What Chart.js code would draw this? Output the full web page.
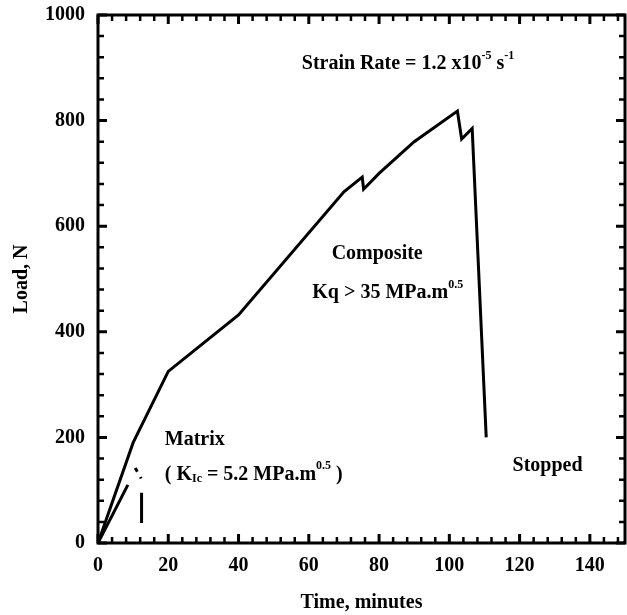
<!DOCTYPE html>
<html><head><meta charset="utf-8">
<script src="https://cdn.jsdelivr.net/npm/chart.js@4"></script>
<style>html,body{margin:0;padding:0;background:#fff}</style>
</head><body>
<canvas id="c" width="627" height="615"></canvas>
<script>
// ---- data ----
const compositeTime = [0, 10, 20, 40, 70, 75.2, 75.6, 80, 90, 102.3, 103.5, 106.5, 110.5];
const compositeLoad = [0, 190, 325, 432, 665, 693, 670, 700, 760, 818, 765, 785, 200];
const matrixTime = [0, 8.5, 9, 10.6, 11.2, 11.7, 12.1, 12.25, 12.3, 12.4, 12.4];
const matrixLoad = [0, 110, null, 142, 135, null, 125, 122, null, 95, 38];
const xTickLabels = [0, 20, 40, 60, 80, 100, 120, 140];
const yTickLabels = [0, 200, 400, 600, 800, 1000];
const xMinorStep = 4;
const yMinorStep = 40;

const FONT = '"Liberation Serif", "Times New Roman", serif';

function toPts(xs, ys){ return xs.map((v,i)=>({x:v, y:ys[i]})); }

// annotation texts (anchored in data coordinates)
const notes = [
  {t:58, v:907, parts:[['Strain Rate = 1.2 x10',''],['-5','sup'],[' s',''],['-1','sup']]},
  {t:66.5, v:547, parts:[['Composite','']]},
  {t:61, v:473, parts:[['Kq > 35 MPa.m',''],['0.5','sup']]},
  {t:19, v:195, parts:[['Matrix','']]},
  {t:19, v:130, parts:[['( K',''],['Ic','sub'],[' = 5.2 MPa.m',''],['0.5','sup'],[' )','']]},
  {t:118, v:147, parts:[['Stopped','']]}
];

const framePlugin = {
  id: 'frame',
  afterDraw(chart){
    const {ctx, chartArea:a, scales:{x, y}} = chart;
    ctx.save();
    ctx.strokeStyle = '#000';
    ctx.lineCap = 'butt';
    ctx.lineWidth = 3;
    ctx.strokeRect(a.left, a.top, a.right - a.left, a.bottom - a.top);
    for (let v = 0; v <= x.max; v += xMinorStep){
      const px = x.getPixelForValue(v);
      const major = xTickLabels.includes(v);
      const L = major ? 9 : 6;
      ctx.lineWidth = major ? 3 : 2.5;
      ctx.beginPath();
      ctx.moveTo(px, a.bottom); ctx.lineTo(px, a.bottom - L);
      ctx.moveTo(px, a.top); ctx.lineTo(px, a.top + L);
      ctx.stroke();
    }
    for (let v = 0; v <= y.max; v += yMinorStep){
      const py = y.getPixelForValue(v);
      const major = yTickLabels.includes(v);
      const L = major ? 9 : 6;
      ctx.lineWidth = major ? 3 : 2.5;
      ctx.beginPath();
      ctx.moveTo(a.left, py); ctx.lineTo(a.left + L, py);
      ctx.moveTo(a.right, py); ctx.lineTo(a.right - L, py);
      ctx.stroke();
    }
    ctx.fillStyle = '#000';
    ctx.textBaseline = 'middle';
    ctx.textAlign = 'left';
    for (const n of notes){
      let px = x.getPixelForValue(n.t);
      const py = y.getPixelForValue(n.v);
      for (const [txt, kind] of n.parts){
        if (kind === 'sup'){
          ctx.font = 'bold 12px ' + FONT;
          ctx.fillText(txt, px, py - 8);
        } else if (kind === 'sub'){
          ctx.font = 'bold 12px ' + FONT;
          ctx.fillText(txt, px, py + 5);
        } else {
          ctx.font = 'bold 20px ' + FONT;
          ctx.fillText(txt, px, py);
        }
        px += ctx.measureText(txt).width;
      }
    }
    ctx.restore();
  }
};

new Chart(document.getElementById('c'), {
  type: 'scatter',
  data: {
    datasets: [
      {label:'Composite', data: toPts(compositeTime, compositeLoad), showLine:true,
       borderColor:'#000', borderWidth:3, pointRadius:0, spanGaps:false, tension:0},
      {label:'Matrix', data: toPts(matrixTime, matrixLoad), showLine:true,
       borderColor:'#000', borderWidth:3, pointRadius:0, spanGaps:false, tension:0}
    ]
  },
  options: {
    responsive: false,
    animation: false,
    devicePixelRatio: 1,
    layout: {padding: {top: 15, right: 2, left: 0, bottom: 0}},
    plugins: {legend: {display:false}, tooltip: {enabled:false}},
    scales: {
      x: {
        type: 'linear', min: 0, max: 150,
        grid: {display:false, drawTicks:false},
        border: {display:false},
        afterBuildTicks(s){ s.ticks = xTickLabels.map(v=>({value:v})); },
        afterFit(s){ s.height = 72; s.paddingLeft = 0; s.paddingRight = 0; },
        ticks: {color:'#000', padding: 11, font:{family:FONT, size:20, weight:'bold'}, maxRotation:0, autoSkip:false,
                callback: v => String(v)},
        title: {display:true, text:'Time, minutes', color:'#000', padding:{top:0,bottom:0},
                font:{family:FONT, size:20, weight:'bold'}}
      },
      y: {
        type: 'linear', min: 0, max: 1000,
        grid: {display:false, drawTicks:false},
        border: {display:false},
        afterBuildTicks(s){ s.ticks = yTickLabels.map(v=>({value:v})); },
        afterFit(s){ s.width = 98; s.paddingTop = 0; s.paddingBottom = 0; },
        ticks: {color:'#000', padding: 13, font:{family:FONT, size:20, weight:'bold'}, autoSkip:false,
                callback: v => String(v)},
        title: {display:true, text:'Load, N', color:'#000', padding:{top:10,bottom:0},
                font:{family:FONT, size:20, weight:'bold'}}
      }
    }
  },
  plugins: [framePlugin]
});
</script>
</body></html>
